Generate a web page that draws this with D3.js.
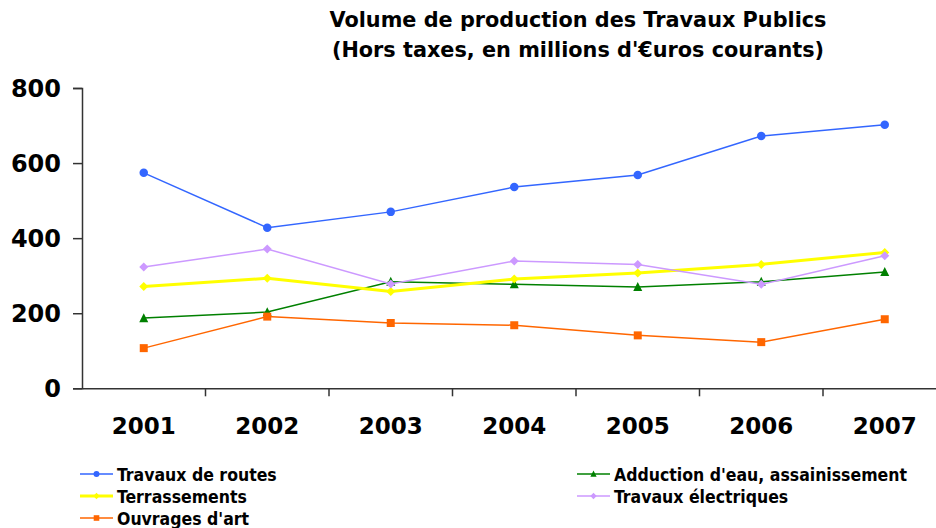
<!DOCTYPE html>
<html><head><meta charset="utf-8">
<script src="https://cdn.jsdelivr.net/npm/d3@7"></script>
<style>body{margin:0;background:#fff}svg{display:block}</style>
</head><body>
<svg id="c" width="936" height="528"></svg>
<script>
const years = ["2001","2002","2003","2004","2005","2006","2007"];
const yTicks = [0,200,400,600,800];
const titleLines = ["Volume de production des Travaux Publics","(Hors taxes, en millions d'€uros courants)"];
const routes = [574,428,470,536,568,672,702];
const adduction = [187,203,284,277,270,284,310];
const terrassements = [271,293,258,291,307,330,362];
const electriques = [323,371,278,339,330,277,353];
const ouvrages = [107,191,174,168,141,123,184];
const seriesNames = ["Travaux de routes","Adduction d'eau, assainissement","Terrassements","Travaux électriques","Ouvrages d'art"];

const series = [
  {name:seriesNames[0], values:routes, color:"#3366FF", width:1.5, marker:"circle"},
  {name:seriesNames[1], values:adduction, color:"#008000", width:1.5, marker:"triangle"},
  {name:seriesNames[2], values:terrassements, color:"#FFFF00", width:3, marker:"diamond"},
  {name:seriesNames[3], values:electriques, color:"#CC99FF", width:1.5, marker:"diamond"},
  {name:seriesNames[4], values:ouvrages, color:"#FF6600", width:1.5, marker:"square"}
];

const svg = d3.select("#c");
const FONT = "'DejaVu Sans', Verdana, sans-serif";
const FONT_C = "'DejaVu Sans Condensed', 'DejaVu Sans', sans-serif";
const pLeft = 82, pRight = 946.5, pTop = 88, pBottom = 388.3;

const x = d3.scaleBand().domain(years).range([pLeft,pRight]).padding(0);
const y = d3.scaleLinear().domain([0,800]).range([pBottom,pTop]);

// title
svg.append("text").attr("x",578).attr("y",27).attr("text-anchor","middle")
  .attr("font-family",FONT).attr("font-weight","bold").attr("font-size",20.8).text(titleLines[0]);
svg.append("text").attr("x",578).attr("y",57).attr("text-anchor","middle")
  .attr("font-family",FONT).attr("font-weight","bold").attr("font-size",20.8).text(titleLines[1]);

// y axis
const ya = svg.append("g").attr("transform",`translate(${pLeft},0)`)
  .call(d3.axisLeft(y).tickValues(yTicks).tickSize(9).tickPadding(12).tickFormat(d3.format("d")));
ya.select(".domain").attr("stroke","#333").attr("stroke-width",1.5);
ya.selectAll(".tick line").attr("stroke","#333").attr("stroke-width",1.5);
ya.selectAll("text").attr("font-family",FONT).attr("font-weight","bold").attr("font-size",24).attr("fill","#000").attr("dy","0.35em");

// x axis
const xa = svg.append("g").attr("transform",`translate(0,${pBottom})`)
  .call(d3.axisBottom(x).tickSize(0).tickPadding(29));
xa.select(".domain").attr("stroke","#333").attr("stroke-width",1.5);
xa.selectAll("text").attr("font-family",FONT).attr("font-weight","bold").attr("font-size",23).attr("fill","#000");
xa.selectAll(".bt").data(years.slice(1)).enter().append("line")
  .attr("x1",d=>x(d)).attr("x2",d=>x(d)).attr("y1",0).attr("y2",8)
  .attr("stroke","#333").attr("stroke-width",1.5);

const cx = d => x(d) + x.bandwidth()/2;
const line = d3.line().x((d,i)=>cx(years[i])).y(d=>y(d));

function markerPath(type, s){
  if(type==="circle") return d3.symbol(d3.symbolCircle, s*s*0.785)();
  if(type==="square") return d3.symbol(d3.symbolSquare, s*s)();
  if(type==="triangle") return `M0,${-s*0.55}L${s/2},${s*0.45}L${-s/2},${s*0.45}Z`;
  if(type==="diamond") return `M0,${-s/2}L${s/2},0L0,${s/2}L${-s/2},0Z`;
}
const msize = {circle:8.5, square:8, triangle:9, diamond:9};

series.forEach(s=>{
  const g = svg.append("g");
  g.append("path").attr("d",line(s.values)).attr("fill","none").attr("stroke",s.color).attr("stroke-width",s.width);
  g.selectAll("path.m").data(s.values).enter().append("path").attr("class","m")
    .attr("d",markerPath(s.marker,msize[s.marker]))
    .attr("transform",(d,i)=>`translate(${cx(years[i])},${y(d)})`)
    .attr("fill",s.color);
});

// legend
const legPos = [[80,474],[577,474],[80,496],[577,496],[80,518]];
series.forEach((s,i)=>{
  const [lx,ly] = legPos[i];
  const g = svg.append("g").attr("transform",`translate(${lx},${ly})`);
  g.append("line").attr("x1",0).attr("x2",33).attr("y1",0).attr("y2",0).attr("stroke",s.color).attr("stroke-width",s.width===3?3:1.5);
  g.append("path").attr("d",markerPath(s.marker,msize[s.marker]*0.7)).attr("transform","translate(16.5,0)").attr("fill",s.color);
  g.append("text").attr("x",37).attr("y",6.5).attr("font-family",FONT_C).attr("font-weight","bold").attr("font-size",17.5).text(s.name);
});
</script>
</body></html>
